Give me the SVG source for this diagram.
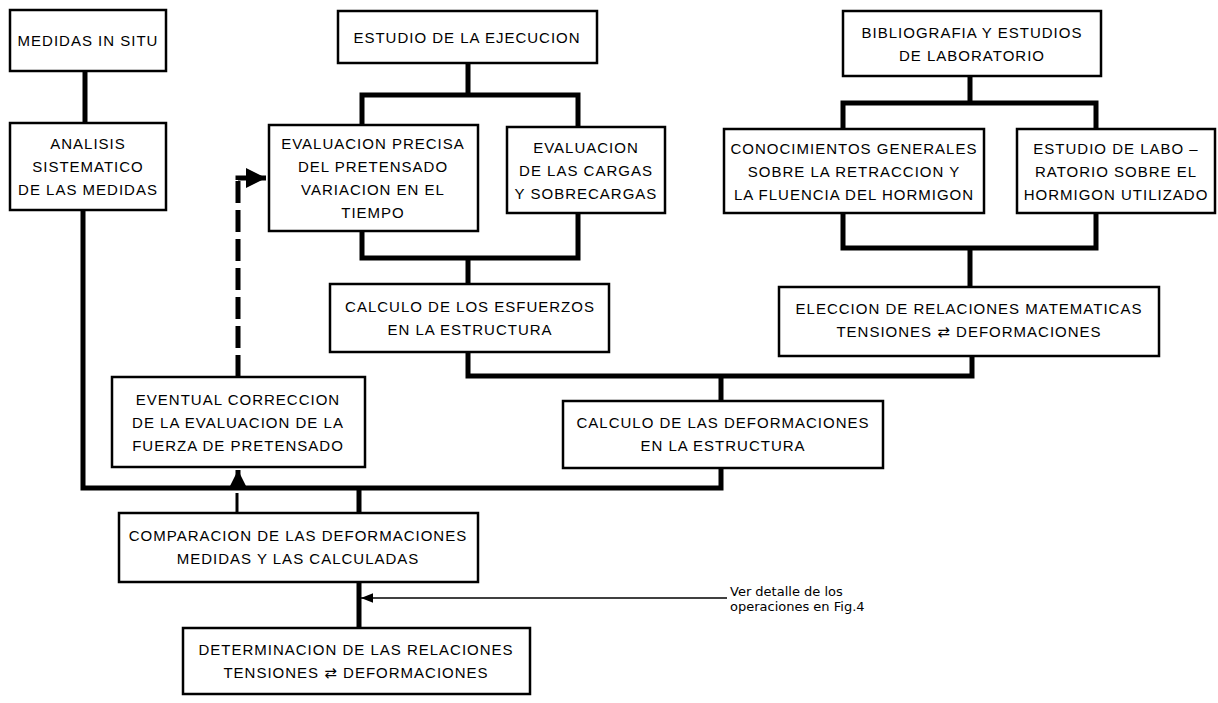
<svg xmlns="http://www.w3.org/2000/svg" width="1218" height="703" viewBox="0 0 1218 703">
<defs>
<style>
.box{fill:#fff;stroke:#000;stroke-width:2.5}
.t{font-family:"Liberation Sans",Arial,sans-serif;font-size:15px;letter-spacing:1px;fill:#000;text-anchor:middle}
.c{fill:none;stroke:#000;stroke-width:5;stroke-linejoin:miter}
.d{fill:none;stroke:#000;stroke-width:5;stroke-dasharray:22 7}
.thin{fill:none;stroke:#000;stroke-width:1.5}
.note{font-family:"DejaVu Sans",sans-serif;font-size:13px;fill:#000}
</style>
<marker id="ah" viewBox="0 0 10 10" refX="10" refY="5" markerWidth="4" markerHeight="4" orient="auto" markerUnits="strokeWidth">
<path d="M0,0 L10,5 L0,10 z" fill="#000"/>
</marker>
<marker id="ahs" viewBox="0 0 10 10" refX="10" refY="5" markerWidth="10" markerHeight="8" orient="auto" markerUnits="strokeWidth">
<path d="M0,1 L10,5 L0,9 z" fill="#000"/>
</marker>
</defs>
<rect width="1218" height="703" fill="#fff"/>
<g id="connectors">
<path class="c" d="M85,71 V123"/>
<path class="c" d="M83,210 V488 H721 V468"/>
<path class="c" d="M468,63 V95 M362,125 V95 H578 V127"/>
<path class="c" d="M362,231 V258 H578 V213 M468,258 V284"/>
<path class="c" d="M468,352 V376 H972 V356 M721,376 V401"/>
<path class="c" d="M970,76 V103 M843,129 V103 H1096 V129"/>
<path class="c" d="M843,213 V248 H1096 V213 M970,248 V287"/>
<path class="c" d="M359,488 V513"/>
<path class="c" d="M359,582 V628"/>
<path class="c" d="M237,493 V513" style="stroke-width:3"/>
<path class="d" d="M238,377 V178"/>
<path class="c" d="M238,180 V178 H266" marker-end="url(#ah)"/>
<path class="c" d="M238,486 V470" marker-end="url(#ah)"/>
<path class="thin" d="M727,598 H361" marker-end="url(#ahs)"/>
</g>
<g id="n-medidas"><rect class="box" x="10" y="10" width="156" height="61"/><text class="t" x="88" y="46">MEDIDAS IN SITU</text></g>
<g id="n-analisis"><rect class="box" x="10" y="123" width="156" height="87"/><text class="t" x="88" y="149">ANALISIS</text><text class="t" x="88" y="172">SISTEMATICO</text><text class="t" x="88" y="195">DE LAS MEDIDAS</text></g>
<g id="n-ejecucion"><rect class="box" x="338" y="11" width="259" height="52"/><text class="t" x="467" y="43">ESTUDIO DE LA EJECUCION</text></g>
<g id="n-pretensado"><rect class="box" x="269" y="125" width="209" height="106"/><text class="t" x="373" y="149">EVALUACION PRECISA</text><text class="t" x="373" y="172">DEL PRETENSADO</text><text class="t" x="373" y="195">VARIACION EN EL</text><text class="t" x="373" y="218">TIEMPO</text></g>
<g id="n-cargas"><rect class="box" x="507" y="127" width="158" height="86"/><text class="t" x="586" y="153">EVALUACION</text><text class="t" x="586" y="176">DE LAS CARGAS</text><text class="t" x="586" y="199">Y SOBRECARGAS</text></g>
<g id="n-esfuerzos"><rect class="box" x="330" y="284" width="279" height="68"/><text class="t" x="470" y="312">CALCULO DE LOS ESFUERZOS</text><text class="t" x="470" y="335">EN LA ESTRUCTURA</text></g>
<g id="n-biblio"><rect class="box" x="843" y="11" width="258" height="65"/><text class="t" x="972" y="38">BIBLIOGRAFIA Y ESTUDIOS</text><text class="t" x="972" y="61">DE LABORATORIO</text></g>
<g id="n-conoc"><rect class="box" x="724" y="129" width="260" height="84"/><text class="t" x="854" y="154">CONOCIMIENTOS GENERALES</text><text class="t" x="854" y="177">SOBRE  LA RETRACCION Y</text><text class="t" x="854" y="200">LA FLUENCIA DEL HORMIGON</text></g>
<g id="n-labo"><rect class="box" x="1017" y="129" width="198" height="84"/><text class="t" x="1116" y="154">ESTUDIO DE LABO –</text><text class="t" x="1116" y="177">RATORIO SOBRE EL</text><text class="t" x="1116" y="200">HORMIGON UTILIZADO</text></g>
<g id="n-eleccion"><rect class="box" x="779" y="287" width="380" height="69"/><text class="t" x="969" y="314">ELECCION DE RELACIONES MATEMATICAS</text><text class="t" x="969" y="337">TENSIONES <tspan font-family="DejaVu Sans">⇄</tspan> DEFORMACIONES</text></g>
<g id="n-deformaciones"><rect class="box" x="563" y="401" width="320" height="67"/><text class="t" x="723" y="428">CALCULO DE LAS DEFORMACIONES</text><text class="t" x="723" y="451">EN LA ESTRUCTURA</text></g>
<g id="n-correccion"><rect class="box" x="112" y="377" width="253" height="90"/><text class="t" x="238" y="405">EVENTUAL CORRECCION</text><text class="t" x="238" y="428">DE LA EVALUACION DE LA</text><text class="t" x="238" y="451">FUERZA DE PRETENSADO</text></g>
<g id="n-comparacion"><rect class="box" x="119" y="513" width="359" height="69"/><text class="t" x="298" y="541">COMPARACION DE LAS DEFORMACIONES</text><text class="t" x="298" y="564">MEDIDAS Y LAS CALCULADAS</text></g>
<g id="n-determinacion"><rect class="box" x="183" y="628" width="347" height="66"/><text class="t" x="356" y="655">DETERMINACION DE LAS RELACIONES</text><text class="t" x="356" y="678">TENSIONES <tspan font-family="DejaVu Sans">⇄</tspan> DEFORMACIONES</text></g>
<g id="n-nota"><text class="note" x="730" y="596">Ver detalle de los</text><text class="note" x="730" y="611">operaciones en Fig.4</text></g>
</svg>
